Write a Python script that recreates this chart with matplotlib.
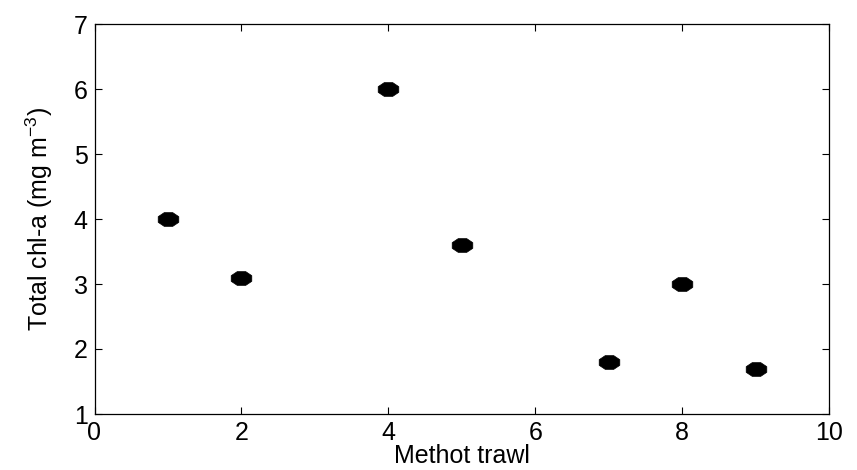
import matplotlib
matplotlib.use("Agg")
import matplotlib.pyplot as plt
import numpy as np
from matplotlib.path import Path

plt.rcParams['font.family'] = ['Liberation Sans', 'DejaVu Sans']
plt.rcParams['mathtext.fontset'] = 'custom'
plt.rcParams['mathtext.rm'] = 'Liberation Sans'

trawl = [1, 2, 4, 5, 7, 8, 9]
chla = [4.0, 3.1, 6.0, 3.6, 1.8, 3.0, 1.7]
xticks = [0, 2, 4, 6, 8, 10]
yticks = [1, 2, 3, 4, 5, 6, 7]

# octagon marker, wider than tall
ang = np.deg2rad(np.arange(22.5, 360, 45))
verts = np.column_stack([1.5 * np.cos(ang), np.sin(ang)])
verts = np.vstack([verts, verts[0]])
codes = [Path.MOVETO] + [Path.LINETO] * (len(verts) - 2) + [Path.CLOSEPOLY]
octo = Path(verts, codes)

W, H = 857, 470
L, R, T, B = 94.5, 829, 24, 414
fig = plt.figure(figsize=(W / 100, H / 100), dpi=100)
ax = fig.add_axes([L / W, 1 - B / H, (R - L) / W, (B - T) / H])
ax.scatter(trawl, chla, marker=octo, s=220, c='black', edgecolors='black', linewidths=0.5, zorder=3)

ax.set_xlim(0, 10)
ax.set_ylim(1, 7)
ax.set_xticks(xticks)
ax.set_yticks(yticks)
ax.tick_params(direction='in', length=5, width=0.8, labelsize=18,
               top=True, right=True, colors='black')
ax.tick_params(axis='y', pad=5)
ax.tick_params(axis='x', pad=5)
for s in ax.spines.values():
    s.set_linewidth(0.9)
ax.set_xlabel('Methot trawl', fontsize=18, labelpad=-1)
ax.set_ylabel('Total chl-a (mg m$^{\\mathregular{-3}}$)', fontsize=18, labelpad=13)

fig.savefig('out.png', dpi=100)
